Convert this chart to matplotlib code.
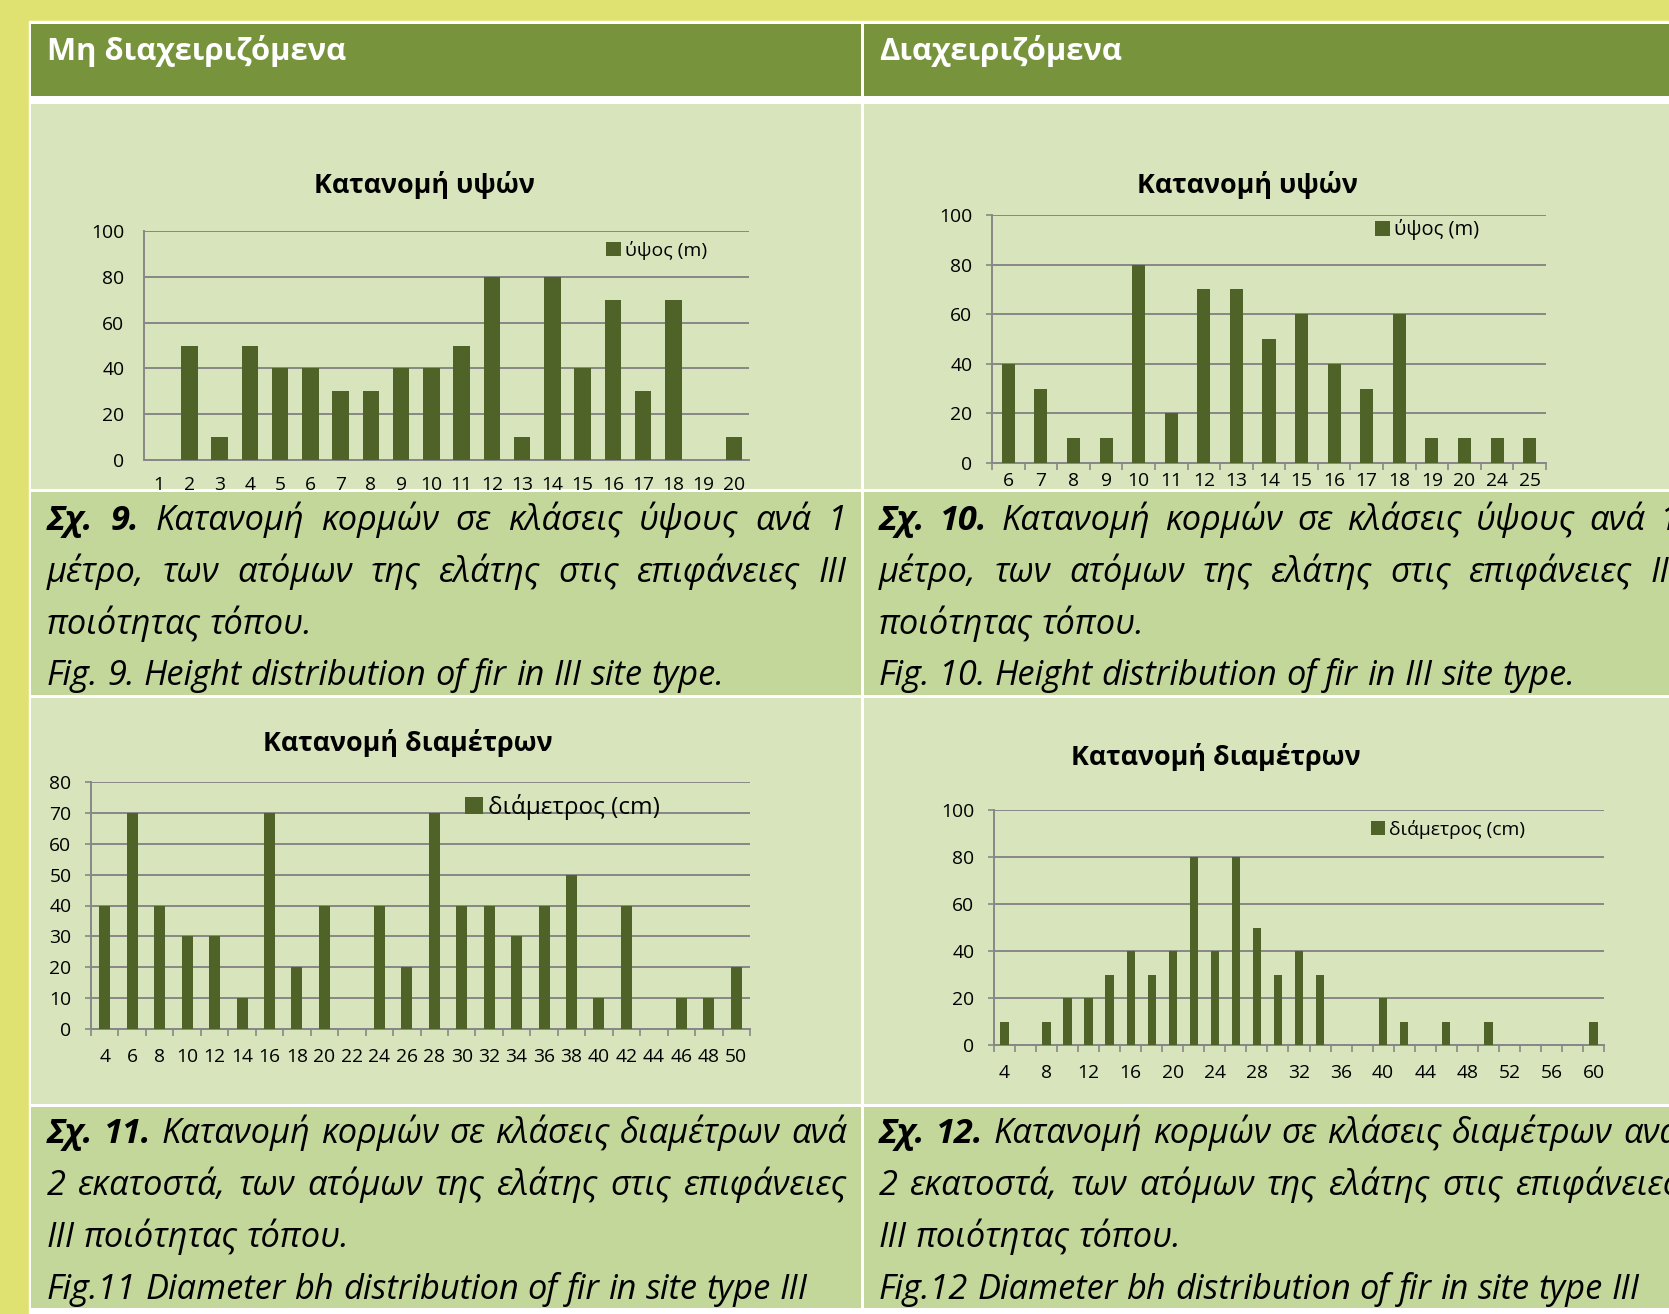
import matplotlib
matplotlib.use('Agg')
import numpy as np
import matplotlib.pyplot as plt
from matplotlib import font_manager
from matplotlib.patches import Rectangle
from matplotlib.transforms import Bbox, TransformedBbox, IdentityTransform

# pick a family that really has a bold face installed
family = 'DejaVu Sans'
for fam in ['Open Sans', 'Noto Sans', 'Roboto', 'Lato']:
    path = font_manager.findfont(font_manager.FontProperties(family=fam, weight='bold'),
                                 fallback_to_default=False)
    if 'bold' in path.lower() and fam.replace(' ', '').lower() in path.replace(' ', '').lower():
        family = fam
        break
plt.rcParams['font.family'] = [family, 'DejaVu Sans']

# data
h1_classes = ['1', '2', '3', '4', '5', '6', '7', '8', '9', '10',
              '11', '12', '13', '14', '15', '16', '17', '18', '19', '20']
h1_counts = [0, 50, 10, 50, 40, 40, 30, 30, 40, 40, 50, 80, 10, 80, 40, 70, 30, 70, 0, 10]

h2_classes = ['6', '7', '8', '9', '10', '11', '12', '13', '14', '15',
              '16', '17', '18', '19', '20', '24', '25']
h2_counts = [40, 30, 10, 10, 80, 20, 70, 70, 50, 60, 40, 30, 60, 10, 10, 10, 10]

d1_classes = ['4', '6', '8', '10', '12', '14', '16', '18', '20', '22', '24', '26',
              '28', '30', '32', '34', '36', '38', '40', '42', '44', '46', '48', '50']
d1_counts = [40, 70, 40, 30, 30, 10, 70, 20, 40, 0, 40, 20,
             70, 40, 40, 30, 40, 50, 10, 40, 0, 10, 10, 20]

d2_classes = ['4', '6', '8', '10', '12', '14', '16', '18', '20', '22', '24', '26', '28', '30', '32',
              '34', '36', '38', '40', '42', '44', '46', '48', '50', '52', '54', '56', '58', '60']
d2_counts = [10, 0, 10, 20, 20, 30, 40, 30, 40, 80, 40, 80, 50, 30, 40,
             30, 0, 0, 20, 10, 0, 10, 0, 10, 0, 0, 0, 0, 10]

headers = ['Μη διαχειριζόμενα', 'Διαχειριζόμενα']
chart_titles = ['Κατανομή υψών', 'Κατανομή υψών', 'Κατανομή διαμέτρων', 'Κατανομή διαμέτρων']
legend_labels = ['ύψος (m)', 'ύψος (m)', 'διάμετρος (cm)', 'διάμετρος (cm)']

captions = [
    [([('Σχ. 9.', True), ('Κατανομή κορμών σε κλάσεις ύψους ανά 1', False)], True),
     ([('μέτρο, των ατόμων της ελάτης στις επιφάνειες III', False)], True),
     ([('ποιότητας τόπου.', False)], False),
     ([('Fig. 9. Height distribution of fir in III site type.', False)], False)],
    [([('Σχ. 10.', True), ('Κατανομή κορμών σε κλάσεις ύψους ανά 1', False)], True),
     ([('μέτρο, των ατόμων της ελάτης στις επιφάνειες III', False)], True),
     ([('ποιότητας τόπου.', False)], False),
     ([('Fig. 10. Height distribution of fir in III site type.', False)], False)],
    [([('Σχ. 11.', True), ('Κατανομή κορμών σε κλάσεις διαμέτρων ανά', False)], True),
     ([('2 εκατοστά, των ατόμων της ελάτης στις επιφάνειες', False)], True),
     ([('III ποιότητας τόπου.', False)], False),
     ([('Fig.11 Diameter bh distribution of fir in site type III', False)], False)],
    [([('Σχ. 12.', True), ('Κατανομή κορμών σε κλάσεις διαμέτρων ανά', False)], True),
     ([('2 εκατοστά, των ατόμων της ελάτης στις επιφάνειες', False)], True),
     ([('III ποιότητας τόπου.', False)], False),
     ([('Fig.12 Diameter bh distribution of fir in site type III', False)], False)],
]

YELLOW = '#dfe270'
HEAD = '#77933c'
CELL = '#d8e4bc'
CAP = '#c4d79b'
BAR = '#4f6228'
GRID = '#878787'

W, H = 1669, 1314
fig = plt.figure(figsize=(W / 100, H / 100), dpi=100, facecolor=YELLOW)
bg = fig.add_axes([0, 0, 1, 1])
bg.set_xlim(0, W)
bg.set_ylim(H, 0)
bg.axis('off')
renderer = fig.canvas.get_renderer()


def text_width(s, size, **kw):
    t = bg.text(0, 0, s, fontsize=size, **kw)
    w = t.get_window_extent(renderer).width
    t.remove()
    return w


def fit(s, target, **kw):
    return 20 * target / text_width(s, 20, **kw)


# table cells (pixel boxes x0, y0, x1, y1)
bg.add_patch(Rectangle((29, 21), W - 29, H - 21, color='white'))
cols = [(31, 861), (864, W)]
rows = [(24, 96, HEAD), (104, 489, CELL), (492, 695, CAP), (698, 1104, CELL), (1107, 1308, CAP)]
for cx0, cx1 in cols:
    for ry0, ry1, c in rows:
        bg.add_patch(Rectangle((cx0, ry0), cx1 - cx0, ry1 - ry0, color=c, lw=0))

# headers
hsize = fit(headers[0], 299, weight='bold')
bg.text(47, 60, headers[0], fontsize=hsize, weight='bold', color='white', va='baseline')
bg.text(879, 60, headers[1], fontsize=hsize, weight='bold', color='white', va='baseline')

# captions, justified like the source page
csize = fit('Fig. 9. Height distribution of fir in III site type.', 677, style='italic')
space = text_width('a a', csize, style='italic') - text_width('aa', csize, style='italic')


def put_line(x0, x1, y, parts, justify):
    arts = []
    for txt, bold in parts:
        for w in txt.split():
            arts.append(bg.text(x0, y, w, fontsize=csize, style='italic', va='baseline',
                                weight='bold' if bold else 'normal'))
    widths = [t.get_window_extent(renderer).width for t in arts]
    gap = (x1 - x0 - sum(widths)) / (len(arts) - 1) if justify and len(arts) > 1 else space
    x = x0
    for t, w in zip(arts, widths):
        t.set_x(x)
        x += w + gap


base_rows = [[530, 582, 634, 685], [1143, 1195, 1247, 1299]]
for k, cap in enumerate(captions):
    x0 = 47 if k % 2 == 0 else 879
    ys = base_rows[k // 2]
    for (parts, just), y in zip(cap, ys):
        put_line(x0, x0 + 800, y, parts, just)

tsize = fit(chart_titles[0], 221, weight='bold')
tick_size = fit('100', 33)


def bar_chart(box, cell_bottom, classes, counts, ymax, ystep, bar_w, title, title_xy, label,
              leg_xy, leg_w, xpad, ticks=True, every=1):
    x0, y0, x1, y1 = box
    ax = fig.add_axes([x0 / W, 1 - y1 / H, (x1 - x0) / W, (y1 - y0) / H])
    ax.set_facecolor('none')
    n = len(classes)
    pos = np.arange(n)
    ax.bar(pos, counts, width=bar_w, color=BAR, label=label, zorder=3)
    ax.set_xlim(-0.5, n - 0.5)
    ax.set_ylim(0, ymax)
    ax.set_yticks(np.arange(0, ymax + 1, ystep))
    ax.yaxis.grid(True, color=GRID, lw=1.4)
    ax.set_axisbelow(True)
    ax.set_xticks(pos)
    ax.set_xticklabels([c if i % every == 0 else '' for i, c in enumerate(classes)])
    for s in ['top', 'right']:
        ax.spines[s].set_visible(False)
    for s in ['left', 'bottom']:
        ax.spines[s].set_color(GRID)
        ax.spines[s].set_linewidth(1.4)
    ylen = 4 if ticks else 0
    ax.tick_params(axis='y', length=ylen, color=GRID, width=1.2, pad=14 / 1.389 - ylen + 4,
                   labelsize=tick_size)
    ax.tick_params(axis='x', which='major', length=0, pad=xpad, labelsize=tick_size)
    if ticks:
        ax.set_xticks(np.arange(-0.5, n), minor=True)
        ax.tick_params(axis='x', which='minor', length=5, color=GRID, width=1.2)
    # labels stop at the caption row, as on the page
    clip = TransformedBbox(Bbox.from_extents(0, H - cell_bottom, W, H), IdentityTransform())
    for lab in ax.get_xticklabels():
        lab.set_clip_box(clip)
        lab.set_clip_on(True)
    bg.text(title_xy[0], title_xy[1], title, fontsize=tsize, weight='bold',
            ha='center', va='center')
    lsize = fit(label, leg_w)
    ax.legend(loc='center left', bbox_to_anchor=leg_xy, frameon=False, fontsize=lsize,
              handlelength=0.75, handleheight=0.75, handletextpad=0.2,
              borderpad=0, borderaxespad=0)
    return ax


bar_chart((144, 231, 749, 460), 490, h1_classes, h1_counts, 100, 20, 0.55,
          chart_titles[0], (424, 185), legend_labels[0], (0.764, 0.917), 82, 11.5, ticks=False)
bar_chart((992, 215, 1546, 463), 490, h2_classes, h2_counts, 100, 20, 0.4,
          chart_titles[1], (1247, 185), legend_labels[1], (0.691, 0.94), 85, 6.5)
bar_chart((91, 782, 750, 1029), 1104, d1_classes, d1_counts, 80, 10, 0.4,
          chart_titles[2], (408, 743), legend_labels[2], (0.568, 0.899), 171, 14)
bar_chart((994, 810, 1604, 1045), 1104, d2_classes, d2_counts, 100, 20, 0.4,
          chart_titles[3], (1216, 757), legend_labels[3], (0.618, 0.919), 136, 14, every=2)

fig.savefig('out.png', dpi=100, facecolor=YELLOW)
